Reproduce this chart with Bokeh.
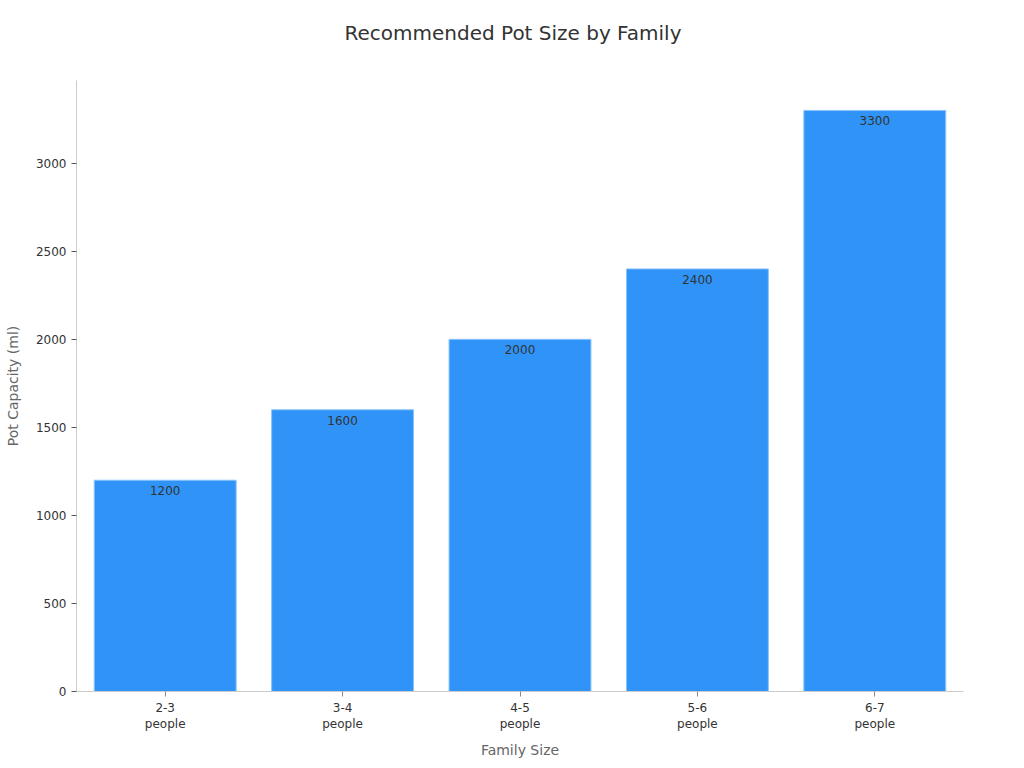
from bokeh.plotting import figure
from bokeh.models import ColumnDataSource, Range1d, FactorRange
from bokeh.embed import file_html
from bokeh.resources import INLINE
from bokeh.core.properties import value

title_text = "Recommended Pot Size by Family"
categories = ["2-3\npeople", "3-4\npeople", "4-5\npeople", "5-6\npeople", "6-7\npeople"]
capacity = [1200, 1600, 2000, 2400, 3300]
y_ticks = [0, 500, 1000, 1500, 2000, 2500, 3000]

src = ColumnDataSource(dict(cat=categories, val=capacity, lab=[str(v) for v in capacity]))

p = figure(x_range=FactorRange(*categories, range_padding=0.0), y_range=Range1d(0, 3470),
           width=1024, height=768, output_backend="svg", toolbar_location=None,
           min_border_left=76, min_border_right=61, min_border_top=80, min_border_bottom=77)

# trailing blank line lifts the title higher above the frame
p.title.text = title_text + "\n "
p.title.align = "left"
p.title.offset = 268
p.title.text_font = "DejaVu Sans"
p.title.text_font_size = "20px"
p.title.text_font_style = "normal"
p.title.text_color = "#333333"
p.title.standoff = 24

p.vbar(x="cat", top="val", width=0.8, source=src, fill_color="#2f93f7",
       line_color="#8cc4fb", line_width=1)
p.text(x="cat", y="val", text="lab", source=src, text_align="center",
       text_baseline="top", y_offset=6, text_font=value("DejaVu Sans"),
       text_font_size="12px", text_color="#333333")

p.xgrid.visible = False
p.ygrid.visible = False
p.outline_line_color = None

p.yaxis.ticker = y_ticks
p.yaxis.axis_label = "Pot Capacity (ml)"
p.xaxis.axis_label = "Family Size"
for ax in (p.xaxis[0], p.yaxis[0]):
    ax.axis_line_color = "#cccccc"
    ax.major_tick_line_color = "#555555"
    ax.minor_tick_line_color = None
    ax.major_tick_in = 0
    ax.major_tick_out = 5
    ax.major_label_text_font = "DejaVu Sans"
    ax.major_label_text_font_size = "12px"
    ax.major_label_text_color = "#333333"
    ax.axis_label_text_font = "DejaVu Sans"
    ax.axis_label_text_font_size = "14px"
    ax.axis_label_text_font_style = "normal"
    ax.axis_label_text_color = "#666666"
p.xaxis.major_tick_line_color = "#888888"
p.xaxis.major_label_standoff = 4
p.xaxis.axis_label_standoff = 8
p.yaxis.axis_label_standoff = 12

open("out.html", "w").write(file_html(p, INLINE))
